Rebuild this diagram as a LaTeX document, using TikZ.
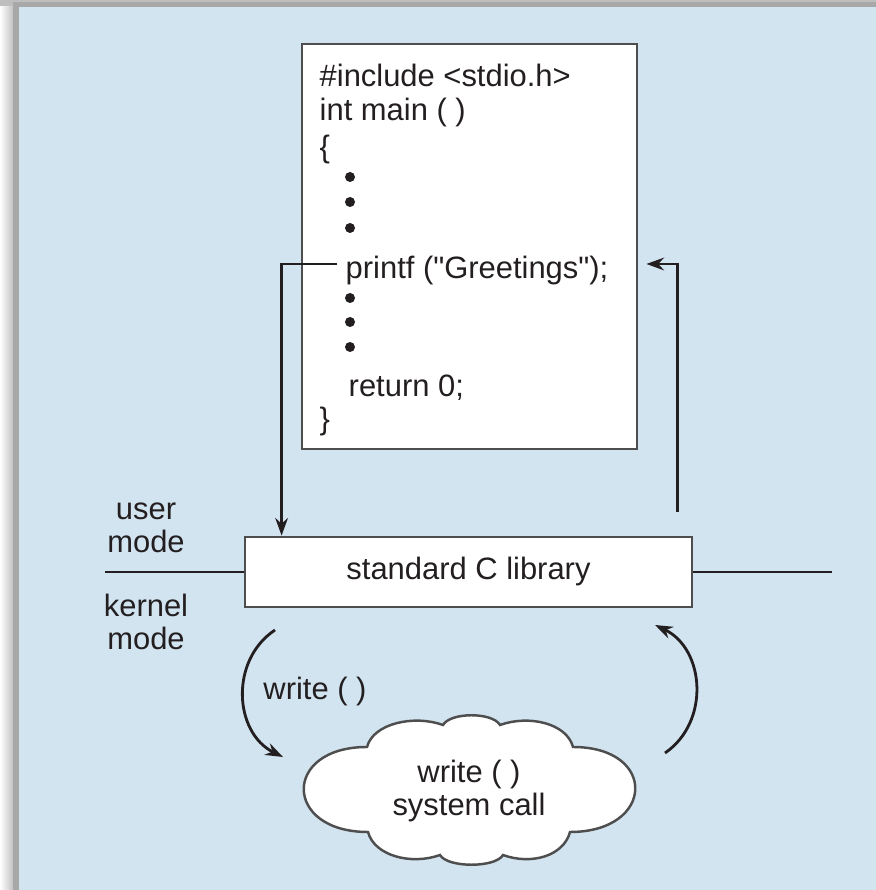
\documentclass[tikz,border=0pt]{standalone}
\usepackage{fontspec}
\setmainfont{Liberation Sans}[Ligatures=TeXOff]
\usetikzlibrary{positioning,arrows.meta}
\definecolor{panel}{RGB}{210,228,240}
\definecolor{edge}{RGB}{78,78,78}
\definecolor{frame}{RGB}{168,168,168}
\definecolor{ink}{RGB}{35,31,32}

\begin{document}
\begin{tikzpicture}[font=\fontsize{8.8}{9.4}\selectfont, text=ink,
  box/.style={draw=edge, line width=0.8pt, fill=white, inner sep=0pt},
  code/.style={anchor=base west, inner sep=0pt},
  bul/.style={circle, fill=ink, inner sep=0pt, minimum size=0.1cm},
  rule/.style={draw=ink, line width=0.8pt},
  flow/.style={draw=ink, line width=0.8pt, -{Stealth[length=5pt,width=3.6pt]}},
  puff/.style={draw=edge, line width=0.7pt, fill=white}]
\useasboundingbox (0,0) rectangle (8.76,8.90);
% frame round the panel
\fill[frame!75] (0,8.83) rectangle (8.76,8.90);
\shade[left color=white, right color=frame!70] (0,0) rectangle (0.13,8.83);
\fill[frame] (0.13,0) rectangle (0.19,8.83);
\fill[frame] (0.13,8.83) rectangle (8.76,8.88);
\fill[panel] (0.19,0) rectangle (8.76,8.83);

% the program
\node[box, minimum width=3.35cm, minimum height=4.05cm] (prog) at (4.695,6.435) {};
\node[code] (inc) at (3.19,8.03) {\#include <stdio.h>};
\node[code] (main) at (3.19,7.69) {int main ( )};
\node[code] (open) at (3.19,7.32) {\{};
\node[bul] (d1) at (3.50,7.13) {};
\node[bul] (d2) at (3.50,6.88) {};
\node[bul] (d3) at (3.50,6.62) {};
\node[code] (call) at (3.45,6.11) {printf ("Greetings");};
\node[bul] (d4) at (3.50,5.92) {};
\node[bul] (d5) at (3.50,5.68) {};
\node[bul] (d6) at (3.50,5.43) {};
\node[code] (ret) at (3.48,4.93) {return 0;};
\node[code] (close) at (3.19,4.60) {\}};

% the library on the mode line
\node[box, minimum width=4.47cm, minimum height=0.70cm] (lib) at (4.685,3.18) {standard C library};
\coordinate (ul) at (1.05,3.18);
\coordinate (ur) at (8.32,3.18);
\draw[rule] (ul) -- (lib.west);
\draw[rule] (lib.east) -- (ur);
\node[align=center] (user) at (1.46,3.62) {user\\mode};
\node[align=center] (kern) at (1.46,2.68) {kernel\\mode};

% call and return
\coordinate (tap) at ([yshift=0.07cm]call.west);
\path (tap -| prog.east) ++(0.08,0) coordinate (back);
\coordinate (up) at ([xshift=-0.16cm,yshift=0.24cm]lib.north east);
\draw[flow] ([xshift=-0.08cm]tap) -| ([xshift=0.38cm]lib.north west);
\draw[flow] (up) |- (back);

% the system call
\coordinate (cc) at (4.69,0.99);
\begin{scope}[shift={(cc)}]
\draw[puff] (-1.02,0.44) .. controls +(75:0.25) and +(160:0.3) .. (-0.26,0.66)
  .. controls +(60:0.15) and +(120:0.15) .. (0.31,0.66)
  .. controls +(20:0.3) and +(105:0.25) .. (1.04,0.44)
  .. controls +(0.85,0) and +(0.85,0) .. (1.01,-0.41)
  .. controls +(-105:0.25) and +(-20:0.3) .. (0.34,-0.64)
  .. controls +(-120:0.15) and +(-60:0.15) .. (-0.29,-0.64)
  .. controls +(-160:0.3) and +(-75:0.25) .. (-1.01,-0.41)
  .. controls +(-0.85,0) and +(-0.85,0) .. (-1.02,0.44) -- cycle;
\end{scope}
\node[align=center] (sys) at (cc) {write ( )\\system call};
\coordinate (wa) at (2.75,2.60);
\coordinate (wb) at (2.83,1.33);
\coordinate (ra) at (6.65,1.37);
\coordinate (rb) at (6.55,2.65);
\draw[flow] (wa) to[bend right=60, looseness=1.1] (wb);
\draw[flow] (ra) to[bend right=60, looseness=1.1] (rb);
\node[anchor=base] (wlab) at (3.15,1.90) {write ( )};
\end{tikzpicture}
\end{document}
